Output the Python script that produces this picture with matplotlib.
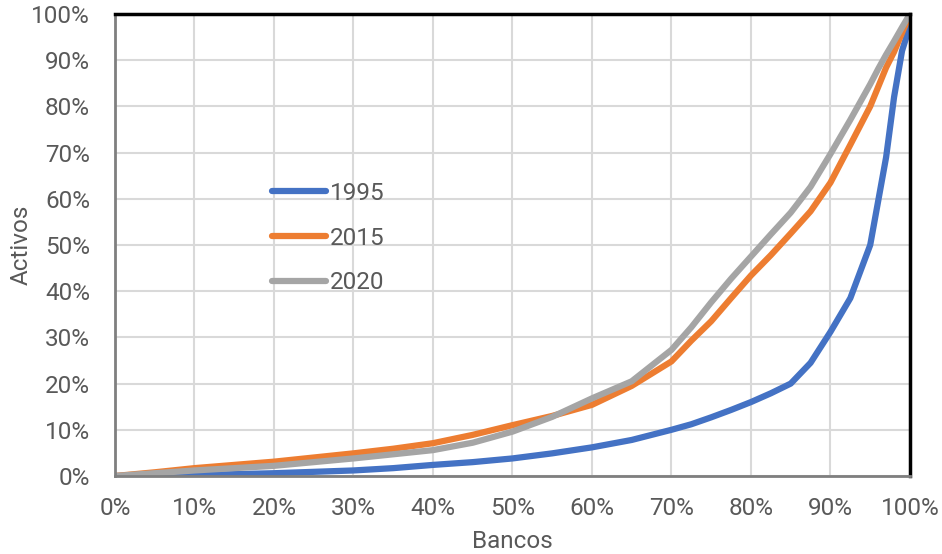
import matplotlib
matplotlib.use("Agg")
import matplotlib.pyplot as plt
from matplotlib.ticker import PercentFormatter

# -----------------------------------------
# data (percent of banks vs percent of assets)
# -----------------------------------------
bancos = [0, 5, 10, 15, 20, 25, 30, 35, 40, 45, 50, 55, 60, 65, 70, 72.5, 75,
          77.5, 80, 82.5, 85, 87.5, 90, 92.5, 95, 96, 97, 98, 99, 100]
activos_1995 = [0, 0.1, 0.2, 0.4, 0.6, 0.9, 1.2, 1.7, 2.4, 3.0, 3.8, 4.9, 6.2, 7.8,
                10.0, 11.2, 12.7, 14.3, 16.0, 17.9, 20.0, 24.5, 31.2, 38.5, 50.0,
                59.5, 69.0, 82.0, 92.0, 97.5]
activos_2015 = [0, 0.8, 1.7, 2.4, 3.1, 4.0, 4.9, 5.9, 7.1, 8.9, 11.0, 13.0, 15.4, 19.5,
                24.8, 29.3, 33.5, 38.5, 43.4, 47.8, 52.5, 57.3, 63.5, 71.7, 80.0,
                84.2, 88.4, 91.8, 95.9, 100.0]
activos_2020 = [0, 0.6, 1.2, 1.7, 2.2, 3.0, 3.8, 4.7, 5.6, 7.2, 9.6, 12.8, 16.8, 20.5,
                27.3, 32.2, 37.6, 42.7, 47.5, 52.3, 57.0, 62.6, 69.7, 77.1, 84.8,
                88.1, 91.2, 94.1, 97.1, 100.0]
series = [("1995", activos_1995, "#4472C4"),
          ("2015", activos_2015, "#ED7D31"),
          ("2020", activos_2020, "#A5A5A5")]
ticks = list(range(0, 101, 10))

plt.rcParams["font.family"] = ["Roboto", "DejaVu Sans"]
text_color = "#595959"

fig = plt.figure(figsize=(9.42, 5.54), dpi=100)
ax = fig.add_axes([0.122, 0.1408, 0.844, 0.834])

for label, values, color in series:
    ax.plot(bancos, values, color=color, lw=4.5, label=label,
            solid_capstyle="round", solid_joinstyle="round")

ax.set_xlim(0, 100)
ax.set_ylim(0, 100)
ax.set_xticks(ticks)
ax.set_yticks(ticks)
ax.xaxis.set_major_formatter(PercentFormatter(decimals=0))
ax.yaxis.set_major_formatter(PercentFormatter(decimals=0))
ax.tick_params(length=0, labelsize=17.5, labelcolor=text_color)
ax.tick_params(axis="x", pad=15)
ax.tick_params(axis="y", pad=18)
ax.grid(color="#D9D9D9", lw=1.5)
ax.set_axisbelow(True)

for side in ["top", "right"]:
    ax.spines[side].set_color("black")
    ax.spines[side].set_linewidth(2.5)
for side in ["left", "bottom"]:
    ax.spines[side].set_color("#7F7F7F")
    ax.spines[side].set_linewidth(2)

ax.set_xlabel("Bancos", fontsize=17.5, color=text_color, labelpad=7)
ax.set_ylabel("Activos", fontsize=17.5, color=text_color)
ax.yaxis.set_label_coords(-0.104, 0.5)

leg = ax.legend(loc="upper left", bbox_to_anchor=(0.197, 0.637), frameon=False,
                borderaxespad=0, borderpad=0, fontsize=17.5, handlelength=2.25,
                handletextpad=0.15, labelspacing=0.9)
for t in leg.get_texts():
    t.set_color(text_color)

fig.savefig("out.png", dpi=100)
